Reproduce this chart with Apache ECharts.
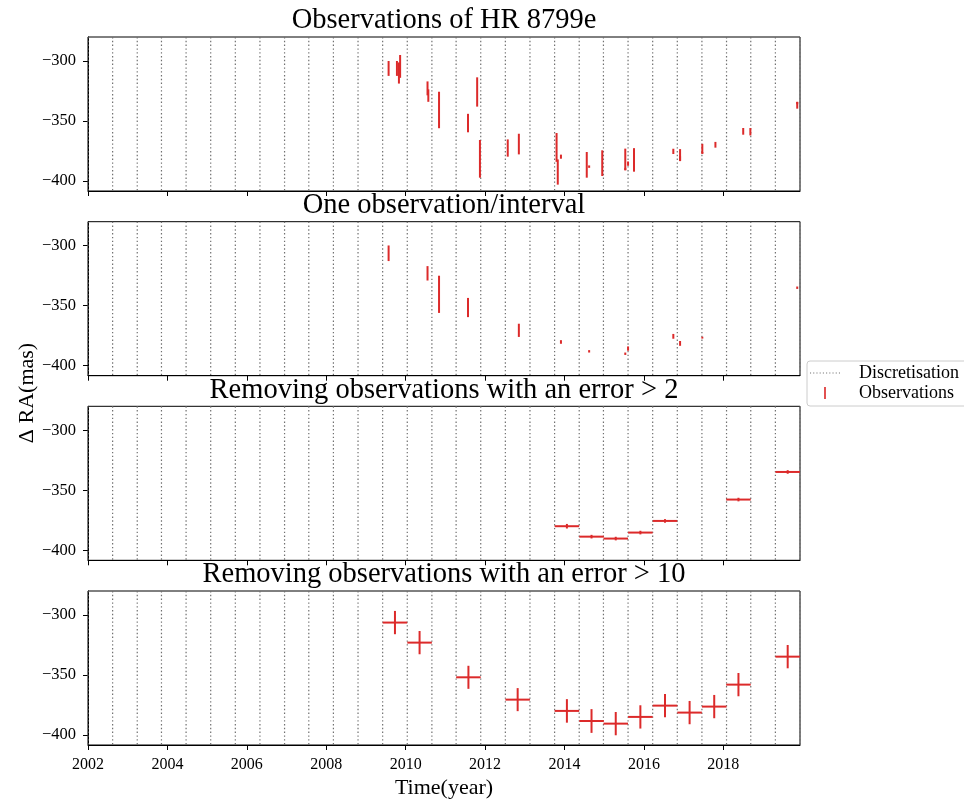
<!DOCTYPE html>
<html>
<head>
<meta charset="utf-8">
<script src="https://cdn.jsdelivr.net/npm/echarts@6/dist/echarts.min.js"></script>
<style>
  html, body { margin: 0; padding: 0; background: #ffffff; }
  #chart { width: 964px; height: 802px; }
</style>
</head>
<body>
<div id="chart"></div>
<script>
// ---- Panel titles and axis ticks ----
const panelTitles = [
  'Observations of HR 8799e',
  'One observation/interval',
  'Removing observations with an error > 2',
  'Removing observations with an error > 10'
];
const yearTicks = [2002, 2004, 2006, 2008, 2010, 2012, 2014, 2016, 2018];
const raTicks = [-300, -350, -400];

// ---- Discretisation: edges of the time intervals (years) ----
const intervalEdges = [
  2002.00, 2002.62, 2003.24, 2003.85, 2004.47, 2005.09, 2005.71, 2006.33,
  2006.95, 2007.56, 2008.18, 2008.80, 2009.42, 2010.04, 2010.66, 2011.27,
  2011.89, 2012.51, 2013.13, 2013.75, 2014.37, 2014.98, 2015.60, 2016.22,
  2016.84, 2017.46, 2018.08, 2018.69, 2019.31, 2019.93
];

// ---- All observations: epoch (year), ΔRA (mas), 1σ error (mas) ----
const obsTime = [
  2009.57, 2009.78, 2009.83, 2009.86, 2010.55, 2010.57, 2010.84, 2011.57,
  2011.80, 2011.87, 2012.57, 2012.85, 2013.80, 2013.83, 2013.91, 2014.56,
  2014.62, 2014.95, 2015.53, 2015.53, 2015.60, 2015.75, 2016.74, 2016.91,
  2016.91, 2017.47, 2017.47, 2017.80, 2018.50, 2018.68, 2019.86, 2019.86
];
const obsRA = [
  -306.2, -306.2, -310.0, -304.5, -322.8, -328.8, -340.8, -351.7,
  -325.8, -381.5, -372.5, -369.2, -372.0, -392.5, -379.7, -386.5,
  -388.0, -385.1, -382.0, -390.0, -385.5, -382.4, -375.3, -378.2,
  -381.4, -373.0, -376.6, -369.8, -358.6, -358.9, -336.9, -335.0
];
const obsSigma = [
  6.2, 6.2, 8.8, 9.5, 5.8, 5.2, 15.2, 7.7,
  12.2, 15.7, 7.2, 8.6, 12.0, 10.5, 1.7, 10.7,
  1.0, 10.7, 9.0, 1.0, 1.8, 9.8, 2.2, 4.8,
  2.0, 4.0, 0.8, 2.4, 2.8, 3.1, 2.8, 1.0
];

// ---- One observation kept per interval ----
const oneTime = [
  2009.57, 2010.55, 2010.84, 2011.57, 2012.85, 2013.91, 2014.62,
  2015.53, 2015.60, 2016.74, 2016.91, 2017.47, 2019.86
];
const oneRA = [
  -306.3, -323.0, -340.5, -351.5, -370.5, -380.2, -388.0,
  -390.0, -385.7, -375.5, -381.4, -376.6, -335.0
];
const oneSigma = [
  6.5, 6.0, 15.5, 8.0, 5.5, 1.5, 1.0,
  1.0, 1.8, 2.0, 2.0, 0.8, 1.0
];

// ---- Interval means after removing observations with error > 2 ----
const err2Time = [2014.06, 2014.68, 2015.29, 2015.91, 2016.53, 2018.38, 2019.62];
const err2RA = [-379.9, -388.6, -390.2, -385.2, -375.5, -357.7, -334.7];
const err2Sigma = [1.9, 1.5, 1.5, 1.5, 1.5, 1.5, 1.5];

// ---- Interval means after removing observations with error > 10 ----
const err10Time = [
  2009.73, 2010.35, 2011.58, 2012.82, 2014.06, 2014.68, 2015.29,
  2015.91, 2016.53, 2017.15, 2017.77, 2018.38, 2019.62
];
const err10RA = [
  -306.3, -323.0, -351.9, -370.5, -379.9, -388.3, -390.5,
  -384.9, -375.5, -381.3, -376.3, -358.0, -334.7
];
const err10Sigma = [
  9.7, 9.7, 9.6, 9.6, 9.8, 9.9, 9.7,
  9.7, 9.7, 9.7, 9.7, 9.7, 9.7
];

// Half width of one interval (years)
const intervalHalfWidth = 0.309;

// ---- Styling ----
const FONT = '"Liberation Serif", "Times New Roman", serif';
const RED = '#dc2a2a';
const GREY = '#707070';
const X_MIN = 2002.0, X_MAX = 2019.93;
const Y_MIN = -408.3, Y_MAX = -280;
const gridTops = [37, 221.7, 406.3, 591];
const GRID_LEFT = 88, GRID_WIDTH = 712, GRID_HEIGHT = 154;

const zip3 = (a, b, c) => a.map((v, i) => [v, b[i], c[i]]);
const zip4 = (a, b, c, d) => a.map((v, i) => [v, b[i], c[i], d[i]]);

// vertical error bar (no marker)
function renderErrorBar(params, api) {
  const t = api.value(0), y = api.value(1), s = api.value(2);
  const top = api.coord([t, y + s]);
  const bot = api.coord([t, y - s]);
  return {
    type: 'line',
    shape: { x1: top[0], y1: top[1], x2: bot[0], y2: bot[1] },
    style: { stroke: RED, lineWidth: 2 }
  };
}

// cross: horizontal extent = interval, vertical extent = error
function renderCross(params, api) {
  const t = api.value(0), y = api.value(1), xe = api.value(2), s = api.value(3);
  const l = api.coord([t - xe, y]), r = api.coord([t + xe, y]);
  const top = api.coord([t, y + s]), bot = api.coord([t, y - s]);
  return {
    type: 'group',
    children: [
      { type: 'line', shape: { x1: l[0], y1: l[1], x2: r[0], y2: r[1] }, style: { stroke: RED, lineWidth: 2 } },
      { type: 'line', shape: { x1: top[0], y1: top[1], x2: bot[0], y2: bot[1] }, style: { stroke: RED, lineWidth: 2 } }
    ]
  };
}

// dotted vertical line across the whole panel
function renderEdge(params, api) {
  const x = api.coord([api.value(0), Y_MAX])[0];
  const cs = params.coordSys;
  return {
    type: 'line',
    shape: { x1: x, y1: cs.y, x2: x, y2: cs.y + cs.height },
    style: { stroke: GREY, lineWidth: 1.2, lineDash: [1.4, 2.4] }
  };
}

const grids = gridTops.map(top => ({
  left: GRID_LEFT, top: top, width: GRID_WIDTH, height: GRID_HEIGHT,
  show: true, borderColor: '#000', borderWidth: 1, backgroundColor: 'transparent'
}));

const xAxes = gridTops.map((_, i) => ({
  type: 'value', gridIndex: i, min: X_MIN, max: X_MAX,
  axisLine: { show: true, lineStyle: { color: '#000', width: 1 } },
  axisTick: { show: true, inside: false, length: 5, customValues: yearTicks, lineStyle: { color: '#000' } },
  axisLabel: {
    show: i === 3, customValues: yearTicks, margin: 12,
    color: '#000', fontFamily: FONT, fontSize: 16,
    formatter: v => String(v)
  },
  splitLine: { show: false }
}));

const yAxes = gridTops.map((_, i) => ({
  type: 'value', gridIndex: i, min: Y_MIN, max: Y_MAX,
  axisLine: { show: true, lineStyle: { color: '#000', width: 1 } },
  axisTick: { show: true, inside: false, length: 5, customValues: raTicks, lineStyle: { color: '#000' } },
  axisLabel: {
    show: true, customValues: raTicks, margin: 12,
    color: '#000', fontFamily: FONT, fontSize: 16.5,
    formatter: v => String(v).replace('-', '\u2212')
  },
  splitLine: { show: false }
}));

const series = [];
gridTops.forEach((_, i) => {
  series.push({
    name: 'Discretisation', type: 'custom', xAxisIndex: i, yAxisIndex: i,
    data: intervalEdges.map(t => [t]), encode: { x: 0 },
    renderItem: renderEdge, itemStyle: { color: GREY }, silent: true, z: 1
  });
});
series.push({
  name: 'Observations', type: 'custom', xAxisIndex: 0, yAxisIndex: 0,
  data: zip3(obsTime, obsRA, obsSigma), encode: { x: 0, y: 1 },
  renderItem: renderErrorBar, itemStyle: { color: RED }, z: 3
});
series.push({
  name: 'Observations', type: 'custom', xAxisIndex: 1, yAxisIndex: 1,
  data: zip3(oneTime, oneRA, oneSigma), encode: { x: 0, y: 1 },
  renderItem: renderErrorBar, itemStyle: { color: RED }, z: 3
});
series.push({
  name: 'Observations', type: 'custom', xAxisIndex: 2, yAxisIndex: 2,
  data: zip4(err2Time, err2RA, err2Time.map(() => intervalHalfWidth), err2Sigma), encode: { x: 0, y: 1 },
  renderItem: renderCross, itemStyle: { color: RED }, z: 3
});
series.push({
  name: 'Observations', type: 'custom', xAxisIndex: 3, yAxisIndex: 3,
  data: zip4(err10Time, err10RA, err10Time.map(() => intervalHalfWidth), err10Sigma), encode: { x: 0, y: 1 },
  renderItem: renderCross, itemStyle: { color: RED }, z: 3
});

// legend icons: a dotted segment and a short vertical bar
let dots = '';
for (let k = 0; k < 10; k++) dots += 'M' + (k * 3) + ',0h1v1h-1z';
const barIcon = 'path://M0,0h1.5v11h-1.5z';

const option = {
  animation: false,
  backgroundColor: '#ffffff',
  grid: grids,
  xAxis: xAxes,
  yAxis: yAxes,
  series: series,
  legend: {
    orient: 'vertical', left: 807, top: 361,
    data: [
      { name: 'Discretisation', icon: 'path://' + dots },
      { name: 'Observations', icon: barIcon }
    ],
    itemWidth: 30, itemHeight: 12, itemGap: 2,
    padding: [3, 8, 4, 3],
    borderColor: '#cccccc', borderWidth: 1, borderRadius: 3,
    backgroundColor: '#ffffff',
    selectedMode: false,
    textStyle: { fontFamily: FONT, fontSize: 18, color: '#000', padding: [0, 0, 0, 14] }
  },
  graphic: [
    ...panelTitles.map((txt, i) => ({
      type: 'text', x: GRID_LEFT + GRID_WIDTH / 2, y: gridTops[i] - 16,
      style: { text: txt, font: '28.5px ' + FONT, fill: '#000', align: 'center', verticalAlign: 'middle' }
    })),
    {
      type: 'text', x: 444, y: 788,
      style: { text: 'Time(year)', font: '22px ' + FONT, fill: '#000', align: 'center', verticalAlign: 'middle' }
    },
    {
      type: 'text', x: 27, y: 393, rotation: Math.PI / 2,
      style: { text: '\u0394 RA(mas)', font: '22px ' + FONT, fill: '#000', align: 'center', verticalAlign: 'middle' }
    }
  ]
};

const chart = echarts.init(document.getElementById('chart'), null, { renderer: 'canvas' });
chart.setOption(option);
</script>
</body>
</html>
